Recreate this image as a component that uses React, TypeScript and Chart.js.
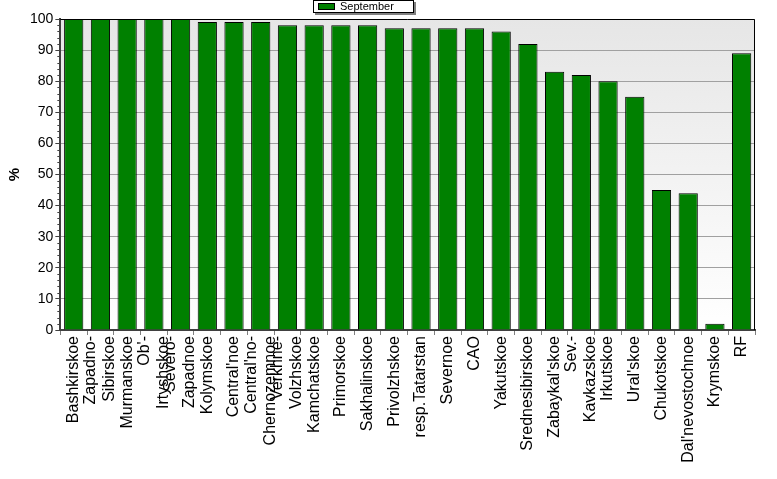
import React, { useEffect, useRef } from "react";
import { Chart, registerables } from "chart.js";

Chart.register(...registerables);

const categories: (string | string[])[] = [
  "Bashkirskoe",
  ["Zapadno-", "Sibirskoe"],
  "Murmanskoe",
  ["Ob'-", "Irtyshskoe"],
  ["Severo-", "Zapadnoe"],
  "Kolymskoe",
  "Central'noe",
  ["Central'no-", "Chernozemnoe"],
  ["Verkhne-", "Volzhskoe"],
  "Kamchatskoe",
  "Primorskoe",
  "Sakhalinskoe",
  "Privolzhskoe",
  "resp.Tatarstan",
  "Severnoe",
  "CAO",
  "Yakutskoe",
  "Srednesibirskoe",
  "Zabaykal'skoe",
  ["Sev.-", "Kavkazskoe"],
  "Irkutskoe",
  "Ural'skoe",
  "Chukotskoe",
  "Dal'nevostochnoe",
  "Krymskoe",
  "RF",
];

const septemberValues = [
  100, 100, 100, 100, 100, 99, 99, 99, 98, 98, 98, 98, 97, 97, 97, 97, 96, 92,
  83, 82, 80, 75, 45, 44, 2, 89,
];

const seriesName = "September";
const yTitle = "%";

const FONT = "'Liberation Sans', Arial, sans-serif";

const plotDecor = {
  id: "plotDecor",
  beforeDraw(chart: any) {
    const { ctx, chartArea: a } = chart;
    ctx.save();
    const g = ctx.createLinearGradient(0, a.top, 0, a.bottom);
    g.addColorStop(0, "#e6e6e6");
    g.addColorStop(1, "#ffffff");
    ctx.fillStyle = g;
    ctx.fillRect(a.left, a.top, a.right - a.left, a.bottom - a.top);
    ctx.restore();
  },
  afterDraw(chart: any) {
    const { ctx, chartArea: a } = chart;
    const y = chart.scales.y;
    const x = chart.scales.x;
    ctx.save();
    // top & right border
    ctx.strokeStyle = "#000";
    ctx.lineWidth = 1;
    ctx.beginPath();
    ctx.moveTo(a.left, a.top + 0.5);
    ctx.lineTo(a.right - 0.5, a.top + 0.5);
    ctx.lineTo(a.right - 0.5, a.bottom);
    ctx.stroke();
    // minor ticks
    ctx.strokeStyle = "#404040";
    ctx.beginPath();
    for (let v = 2; v < 100; v += 2) {
      if (v % 10 === 0) continue;
      const py = Math.round(y.getPixelForValue(v)) + 0.5;
      ctx.moveTo(a.left - 3, py);
      ctx.lineTo(a.left, py);
    }
    ctx.stroke();
    // x labels (multi-line centred on tick)
    ctx.fillStyle = "#000";
    ctx.font = `16px ${FONT}`;
    ctx.textAlign = "right";
    ctx.textBaseline = "middle";
    const lh = 19;
    const ly0 = a.bottom + 6;
    categories.forEach((c, i) => {
      const lines = Array.isArray(c) ? c : [c];
      const px = x.getPixelForValue(i);
      lines.forEach((ln, j) => {
        const off = (j - (lines.length - 1) / 2) * lh;
        ctx.save();
        ctx.translate(px + off, ly0);
        ctx.rotate(-Math.PI / 2);
        ctx.fillText(ln, 0, 0);
        ctx.restore();
      });
    });
    // legend
    const lx = 313, lyy = 0, lw = 101, lhh = 13;
    ctx.fillStyle = "#808080";
    ctx.fillRect(lx + 2, lyy + 2, lw, lhh);
    ctx.fillStyle = "#fff";
    ctx.fillRect(lx, lyy, lw, lhh);
    ctx.strokeStyle = "#000";
    ctx.strokeRect(lx + 0.5, lyy + 0.5, lw - 1, lhh - 1);
    ctx.fillStyle = "#008000";
    ctx.fillRect(lx + 5, lyy + 3, 17, 7);
    ctx.strokeRect(lx + 5.5, lyy + 3.5, 16, 6);
    ctx.fillStyle = "#000";
    ctx.font = `11px ${FONT}`;
    ctx.textBaseline = "middle";
    ctx.textAlign = "left";
    ctx.fillText(seriesName, lx + 27, lyy + 7);
    ctx.restore();
  },
};

export default function App() {
  const ref = useRef<HTMLCanvasElement>(null);
  useEffect(() => {
    const chart = new Chart(ref.current!, {
      type: "bar",
      data: {
        labels: categories.map((c) => (Array.isArray(c) ? c.join(" ") : c)),
        datasets: [
          {
            label: seriesName,
            data: septemberValues,
            backgroundColor: "#008000",
            borderColor: "#000000",
            borderWidth: 1,
            barPercentage: 0.72,
            categoryPercentage: 1,
          },
        ],
      },
      options: {
        animation: false,
        responsive: false,
        devicePixelRatio: 1,
        layout: { padding: { top: 19, right: 22, bottom: 144, left: 6 } },
        plugins: {
          legend: { display: false },
          tooltip: { enabled: false },
        },
        scales: {
          x: {
            grid: {
              drawOnChartArea: false,
              drawTicks: true,
              tickLength: 5,
              tickColor: "#808080",
            },
            border: { color: "#404040", width: 2 },
            ticks: { display: false, autoSkip: false },
          },
          y: {
            min: 0,
            max: 100,
            ticks: {
              stepSize: 10,
              color: "#000",
              padding: 2,
              font: { family: FONT, size: 14 },
            },
            grid: {
              color: "#a0a0a0",
              tickColor: "#404040",
              tickLength: 5,
            },
            border: { color: "#404040", width: 2 },
            title: {
              display: true,
              text: yTitle,
              color: "#000",
              font: { family: FONT, size: 15, weight: "bold" },
              padding: { top: 0, bottom: 4 },
            },
          },
        },
      },
      plugins: [plotDecor],
    });
    return () => chart.destroy();
  }, []);
  return (
    <div style={{ position: "absolute", left: 0, top: 0, width: 777, height: 479, background: "#fff" }}>
      <canvas ref={ref} width={777} height={479} />
    </div>
  );
}
